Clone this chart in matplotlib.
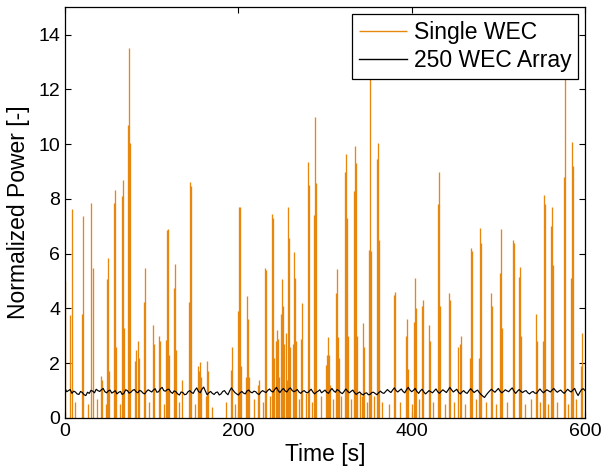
import numpy as np
import matplotlib
matplotlib.use("Agg")
import matplotlib.pyplot as plt

plt.rcParams['font.family'] = ['Liberation Sans', 'DejaVu Sans']

# Single WEC: spike times [s] and peak normalized power
single_t = [0.3, 6.1, 8.1, 20.0, 21.1, 30.3, 31.9, 41.5, 42.7, 47.7, 48.8, 50.0, 51.1,
            56.9, 58.0, 59.2, 66.1, 67.3, 68.4, 73.0, 74.2, 75.3, 81.1, 82.3, 84.6, 85.7,
            91.5, 92.7, 101.9, 103.0, 108.8, 110.0, 116.9, 118.0, 119.2, 120.3, 126.1,
            127.3, 128.4, 135.3, 143.4, 144.6, 145.7, 153.8, 155.0, 156.1, 157.3, 163.0,
            164.2, 165.3, 191.9, 193.0, 200.0, 201.1, 202.3, 203.4, 209.2, 210.4, 211.5,
            212.7, 223.0, 224.2, 231.1, 232.3, 239.2, 240.4, 241.5, 243.8, 245.0, 246.1,
            247.3, 249.6, 250.7, 251.9, 253.0, 255.3, 256.5, 257.7, 258.8, 260.0, 263.4,
            264.6, 265.7, 266.9, 272.6, 273.8, 280.7, 281.9, 287.6, 288.8, 289.9, 301.5,
            302.6, 303.8, 304.9, 306.1, 313.0, 314.2, 315.3, 316.5, 323.4, 324.6, 325.7,
            326.9, 333.8, 335.0, 336.1, 337.3, 343.0, 344.2, 345.3, 351.1, 352.3, 353.4,
            360.3, 361.5, 362.6, 379.9, 381.1, 393.8, 394.9, 396.1, 403.0, 404.2, 405.3,
            412.2, 413.3, 420.3, 421.5, 430.7, 431.8, 433.0, 443.4, 444.6, 453.8, 456.1,
            457.2, 467.6, 468.7, 469.9, 478.0, 479.1, 480.3, 491.9, 493.1, 502.3, 503.4,
            504.6, 517.3, 518.4, 524.2, 525.4, 526.5, 543.8, 545.0, 551.9, 553.0, 554.2,
            561.1, 562.3, 563.4, 576.1, 577.3, 584.2, 585.4, 586.5, 595.8, 597.0,
            12, 26, 37, 63, 97, 114, 132, 150, 170, 186, 196, 218, 228, 236, 270, 278,
            285, 295, 309, 319, 330, 340, 348, 356, 366, 374, 387, 400, 409, 425, 438,
            449, 462, 474, 486, 497, 510, 531, 538, 548, 557, 568, 580, 590]
single_p = [5.0, 3.75, 7.64, 3.8, 7.36, 7.86, 5.48, 1.53, 1.4, 0.5, 5.08, 5.84, 1.7,
            7.84, 8.31, 2.6, 8.12, 8.71, 3.3, 10.71, 13.5, 10.05, 2.1, 2.5, 2.8, 2.2,
            4.24, 5.48, 3.39, 2.7, 2.98, 2.8, 2.84, 6.87, 6.92, 2.3, 4.75,
            5.61, 2.5, 1.4, 4.24, 8.63, 8.46, 1.9, 1.7, 2.05, 1.5, 0.8,
            2.1, 1.7, 1.74, 2.6, 3.9, 7.72, 7.69, 1.9, 1.5, 4.47, 3.6,
            1.5, 1.2, 1.4, 5.48, 5.4, 7.44, 7.3, 2.2, 2.8, 3.2, 2.9,
            1.5, 3.8, 5.08, 4.1, 2.7, 3.1, 1.4, 7.69, 6.56, 2.6, 2.7,
            6.06, 5.1, 2.8, 2.9, 4.2, 9.36, 8.5, 7.4, 11.01, 8.6, 1.95,
            2.3, 2.97, 2.3, 1.2, 4.58, 5.45, 2.97, 2.2, 8.97, 9.64, 7.3,
            3.0, 8.3, 9.95, 9.3, 3.0, 0.8, 3.46, 2.6, 6.14, 12.8, 6.1,
            9.47, 10.04, 6.5, 4.5, 4.6, 3.0, 3.6, 1.8, 3.5, 5.1, 4.0,
            4.1, 4.3, 3.4, 2.8, 7.8, 9.0, 4.1, 4.55, 4.3, 2.6, 2.7,
            2.98, 2.2, 6.22, 6.1, 2.2, 6.95, 6.4, 4.55, 4.1, 5.3, 6.9,
            3.3, 6.5, 6.4, 5.14, 5.5, 3.0, 3.8, 2.8, 2.8, 8.16, 7.8,
            7.0, 7.69, 5.6, 8.8, 13.2, 5.1, 10.07, 9.2, 1.9, 3.1,
            0.6, 0.5, 0.7, 0.5, 0.6, 0.5, 0.6, 0.5, 0.4, 0.6, 0.5, 0.7, 0.6, 0.8, 0.7, 0.9,
            0.6, 0.8, 0.7, 0.8, 0.7, 0.9, 0.6, 0.8, 0.6, 0.5, 0.6, 0.5, 0.7, 0.6, 0.5,
            0.6, 0.5, 0.7, 0.6, 0.5, 0.6, 0.5, 0.7, 0.6, 0.5, 0.6, 0.5, 0.7]

# 250 WEC array: normalized power sampled every 2 s
array_t = list(range(0, 601, 2))
array_p = [
    1.08, 0.96, 1.00, 1.04, 0.90, 0.98, 0.95, 0.88, 0.86, 0.97, 0.93, 0.85, 0.82, 0.94, 0.90, 1.01, 0.98, 0.92, 1.05, 1.00,
    0.97, 1.03, 1.08, 0.96, 0.92, 0.99, 1.02, 0.91, 0.95, 1.00, 0.88, 0.94, 0.97, 0.86, 0.90, 1.03, 1.00, 0.91, 0.94, 1.01,
    1.04, 0.96, 0.92, 1.01, 0.98, 0.91, 0.88, 0.97, 1.03, 0.99, 0.95, 1.02, 1.07, 0.94, 0.96, 1.06, 1.12, 1.00, 0.98, 1.04,
    1.05, 0.95, 0.90, 0.99, 0.96, 0.88, 0.84, 0.95, 0.93, 0.85, 0.87, 0.96, 1.00, 0.93, 0.90, 1.02, 1.10, 0.97, 0.92, 1.05,
    1.13, 0.98, 0.85, 0.92, 0.97, 0.90, 0.86, 0.93, 0.95, 0.84, 0.88, 0.97, 1.00, 0.91, 0.85, 0.99, 1.10, 1.01, 0.93, 0.88,
    0.84, 0.92, 0.97, 0.91, 0.88, 0.99, 1.02, 0.95, 0.92, 0.98, 0.96, 0.89, 0.86, 0.95, 1.00, 0.96, 0.93, 1.01, 1.06, 0.98,
    0.95, 1.04, 1.12, 1.00, 0.93, 1.02, 1.08, 0.99, 0.95, 1.05, 1.10, 1.01, 0.96, 0.99, 1.04, 0.95, 0.90, 0.97, 1.00, 0.94,
    0.92, 0.99, 1.05, 0.95, 0.88, 0.94, 0.98, 1.03, 0.92, 0.97, 1.02, 0.94, 0.90, 1.00, 1.08, 0.99, 0.94, 1.04, 1.00, 0.93,
    0.89, 0.97, 1.06, 0.98, 0.92, 0.97, 1.02, 0.93, 0.86, 0.91, 0.95, 0.88, 0.84, 0.90, 0.92, 0.85, 0.86, 0.93, 0.94, 0.89,
    0.85, 0.93, 0.98, 0.92, 0.90, 0.97, 1.04, 0.98, 0.93, 1.02, 1.10, 1.00, 0.95, 1.01, 1.06, 0.97, 0.92, 1.03, 1.12, 1.02,
    0.96, 1.01, 1.08, 0.97, 0.90, 0.99, 1.05, 0.95, 0.88, 0.94, 1.00, 0.96, 0.92, 0.99, 1.06, 0.96, 0.90, 0.97, 1.03, 0.98,
    0.93, 1.02, 1.12, 1.03, 0.95, 1.00, 1.05, 0.94, 0.88, 0.95, 1.00, 0.93, 0.90, 0.99, 1.07, 1.00, 0.93, 0.98, 1.02, 0.93,
    0.86, 0.80, 0.75, 0.84, 0.92, 0.99, 1.05, 0.99, 0.94, 1.01, 1.08, 0.98, 0.92, 0.97, 1.03, 0.99, 0.96, 1.04, 1.10, 0.98,
    0.90, 0.98, 1.04, 0.97, 0.93, 0.98, 1.00, 0.92, 0.88, 0.94, 0.97, 0.91, 0.90, 0.99, 1.06, 0.98, 0.92, 0.98, 1.03, 0.99,
    0.95, 1.02, 1.08, 1.00, 0.94, 0.99, 1.02, 0.95, 0.90, 0.98, 1.05, 0.99, 0.95, 1.02, 1.08, 0.93, 0.82, 0.94, 1.04, 1.07,
    1.00]

xticks = [0, 200, 400, 600]
yticks = [0, 2, 4, 6, 8, 10, 12, 14]

ORANGE = '#E8870E'

fig = plt.figure(figsize=(6.04, 4.75), dpi=100)
ax = fig.add_axes([0.1076, 0.12, 0.861, 0.8646])

ax.vlines(single_t, 0, single_p, colors=ORANGE, linewidth=0.95, label='Single WEC', zorder=2)
ax.plot(array_t, array_p, color='black', linewidth=0.85, label='250 WEC Array', zorder=3)

ax.set_xlim(0, 600)
ax.set_ylim(0, 15)
ax.set_xticks(xticks)
ax.set_yticks(yticks)
ax.tick_params(direction='in', length=4, width=0.8, labelsize=14, top=True, right=True)
for s in ax.spines.values():
    s.set_linewidth(0.9)
ax.set_xlabel('Time [s]', fontsize=16.5, labelpad=2)
ax.set_ylabel('Normalized Power [-]', fontsize=16.5, labelpad=6)

leg = ax.legend(loc='upper right', fontsize=16.5, frameon=True, fancybox=False,
                edgecolor='black', framealpha=1, borderpad=0.3, labelspacing=0.2,
                handlelength=2.1, handletextpad=0.3, borderaxespad=0.3)
leg.get_frame().set_linewidth(0.9)
for h in leg.legend_handles:
    h.set_linewidth(1.0)

fig.savefig('out.png', dpi=100)
